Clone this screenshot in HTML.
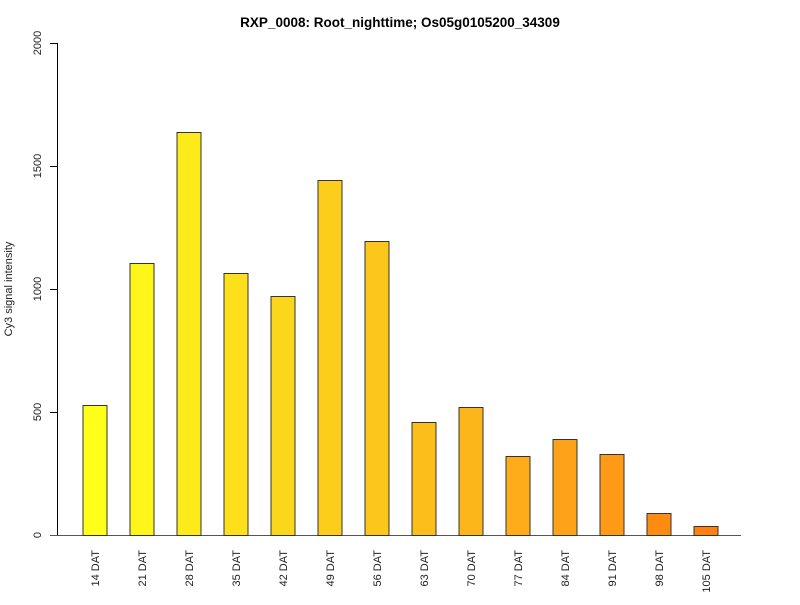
<!DOCTYPE html>
<html><head><style>body{margin:0;background:#fff}</style></head><body>
<svg width="800" height="600" xmlns="http://www.w3.org/2000/svg" font-family="Liberation Sans, sans-serif">
<rect width="800" height="600" fill="#fff"/>
<text x="400" y="27" text-anchor="middle" font-weight="bold" font-size="13.5">RXP_0008: Root_nighttime; Os05g0105200_34309</text>
<g stroke="#000" stroke-width="1" fill="none">
<line x1="57.5" y1="43" x2="57.5" y2="535"/>
<line x1="50" y1="43.5" x2="57.5" y2="43.5"/>
<line x1="50" y1="166.5" x2="57.5" y2="166.5"/>
<line x1="50" y1="289.5" x2="57.5" y2="289.5"/>
<line x1="50" y1="412.5" x2="57.5" y2="412.5"/>
<line x1="50" y1="535.5" x2="741" y2="535.5" stroke="#555"/>
</g>
<g font-size="11" text-anchor="middle" fill="#222">
<text transform="translate(41,43) rotate(-90)">2000</text>
<text transform="translate(41,166) rotate(-90)">1500</text>
<text transform="translate(41,289) rotate(-90)">1000</text>
<text transform="translate(41,412) rotate(-90)">500</text>
<text transform="translate(41,535) rotate(-90)">0</text>
<text transform="translate(12,289) rotate(-90)">Cy3 signal intensity</text>
</g>
<g stroke="#333" stroke-width="1">
<rect x="83" y="405.5" width="24" height="130" fill="#FFFF1A"/>
<rect x="130" y="263.5" width="24" height="272" fill="#FEF51A"/>
<rect x="177" y="132.5" width="24" height="403" fill="#FDEA1B"/>
<rect x="224" y="273.5" width="24" height="262" fill="#FDE01B"/>
<rect x="271" y="296.5" width="24" height="239" fill="#FCD61B"/>
<rect x="318" y="180.5" width="24" height="355" fill="#FCCE1B"/>
<rect x="365" y="241.5" width="24" height="294" fill="#FCC61B"/>
<rect x="412" y="422.5" width="24" height="113" fill="#FCBE1B"/>
<rect x="459" y="407.5" width="24" height="128" fill="#FDB61A"/>
<rect x="506" y="456.5" width="24" height="79" fill="#FEAC1A"/>
<rect x="553" y="439.5" width="24" height="96" fill="#FEA318"/>
<rect x="600" y="454.5" width="24" height="81" fill="#FF9A16"/>
<rect x="647" y="513.5" width="24" height="22" fill="#FF8C12"/>
<rect x="694" y="526.5" width="24" height="9" fill="#FF800E"/>
</g>
<g font-size="11" text-anchor="end" fill="#222">
<text transform="translate(99,550) rotate(-90)">14 DAT</text>
<text transform="translate(146,550) rotate(-90)">21 DAT</text>
<text transform="translate(193,550) rotate(-90)">28 DAT</text>
<text transform="translate(240,550) rotate(-90)">35 DAT</text>
<text transform="translate(287,550) rotate(-90)">42 DAT</text>
<text transform="translate(334,550) rotate(-90)">49 DAT</text>
<text transform="translate(381,550) rotate(-90)">56 DAT</text>
<text transform="translate(428,550) rotate(-90)">63 DAT</text>
<text transform="translate(475,550) rotate(-90)">70 DAT</text>
<text transform="translate(522,550) rotate(-90)">77 DAT</text>
<text transform="translate(569,550) rotate(-90)">84 DAT</text>
<text transform="translate(616,550) rotate(-90)">91 DAT</text>
<text transform="translate(663,550) rotate(-90)">98 DAT</text>
<text transform="translate(710,550) rotate(-90)">105 DAT</text>
</g>
</svg>
</body></html>
